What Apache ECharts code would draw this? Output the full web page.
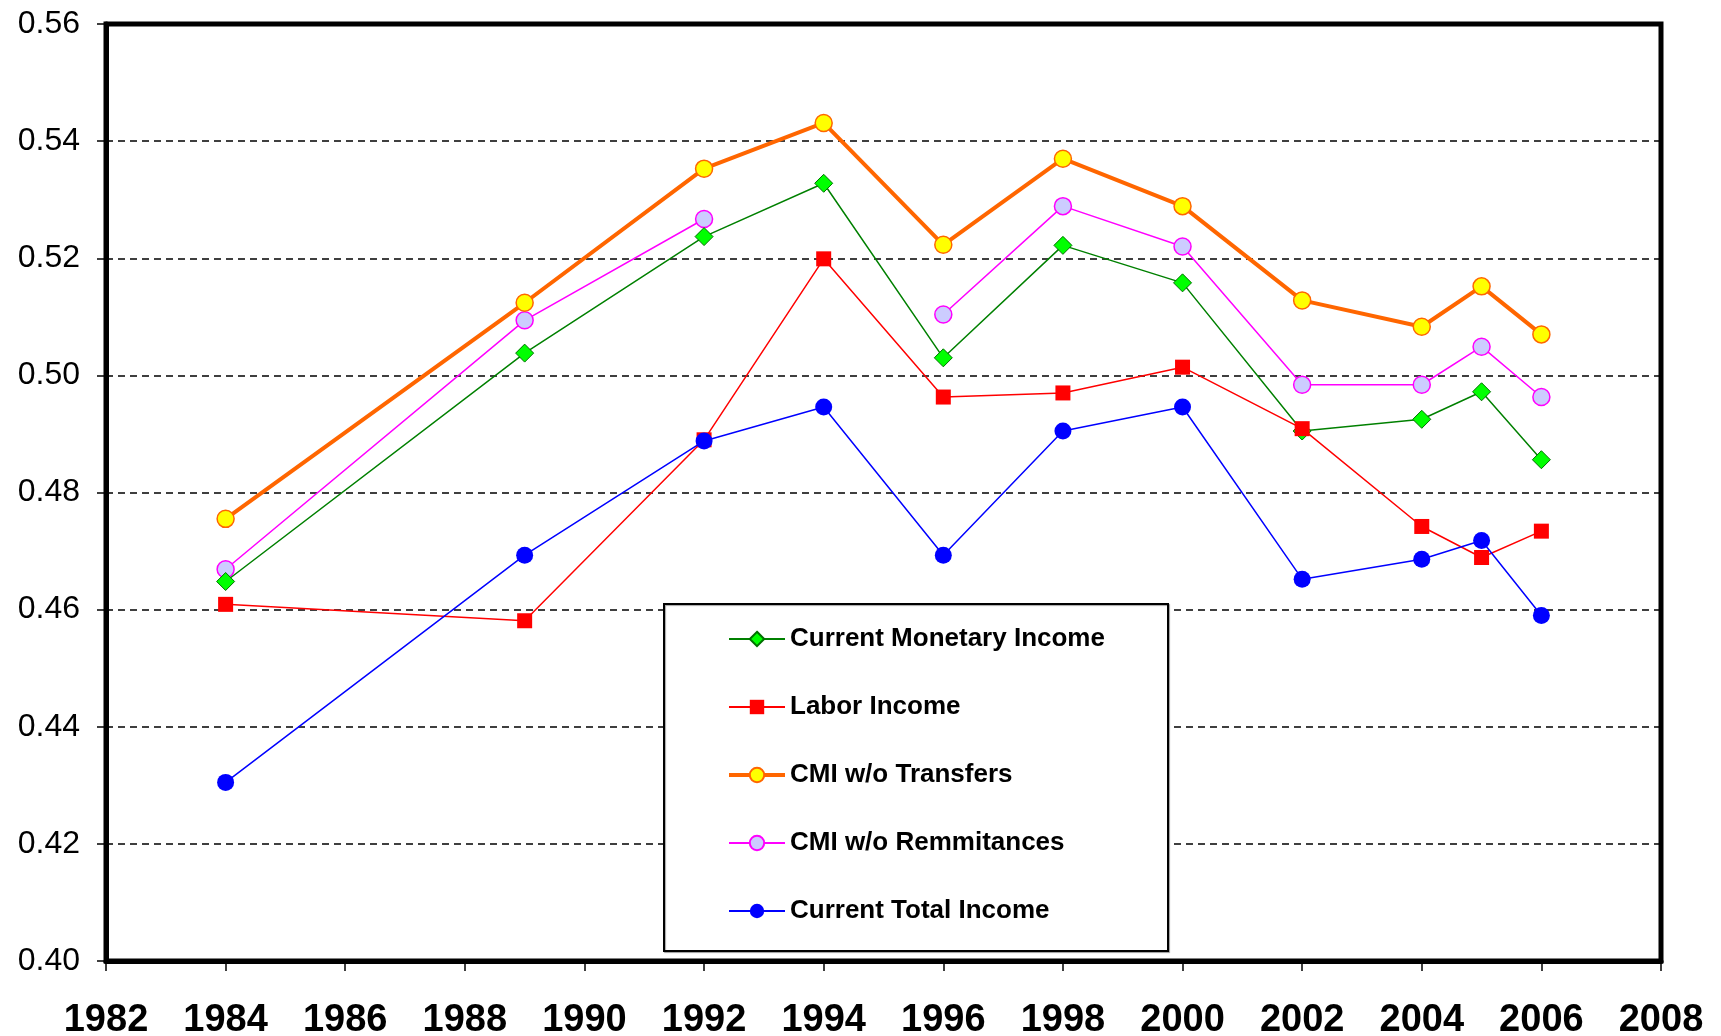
<!DOCTYPE html>
<html>
<head>
<meta charset="utf-8">
<script src="https://cdn.jsdelivr.net/npm/echarts@6/dist/echarts.min.js"></script>
<style>
  html, body { margin: 0; padding: 0; background: #ffffff; }
  #chart { width: 1721px; height: 1036px; }
</style>
</head>
<body>
<div id="chart"></div>
<script>
// Survey years
const years = [1984, 1989, 1992, 1994, 1996, 1998, 2000, 2002, 2004, 2005, 2006];

// Gini coefficients by income concept
const currentMonetaryIncome = [0.4648, 0.5038, 0.5237, 0.5328, 0.5030, 0.5222, 0.5158, 0.4905, 0.4925, 0.4972, 0.4856];
const laborIncome           = [0.4609, 0.4581, 0.4890, 0.5199, 0.4963, 0.4970, 0.5014, 0.4909, 0.4742, 0.4689, 0.4734];
const cmiWithoutTransfers   = [0.4755, 0.5124, 0.5353, 0.5431, 0.5223, 0.5370, 0.5289, 0.5128, 0.5083, 0.5152, 0.5070];
const cmiWithoutRemittances = [0.4669, 0.5094, 0.5267, null,   0.5104, 0.5289, 0.5220, 0.4984, 0.4984, 0.5049, 0.4963];
const currentTotalIncome    = [0.4305, 0.4693, 0.4888, 0.4946, 0.4693, 0.4905, 0.4946, 0.4652, 0.4686, 0.4718, 0.4590];

// Axis ranges
const xMin = 1982, xMax = 2008, xStep = 2;
const yMin = 0.40, yMax = 0.56, yStep = 0.02;

const pairs = vals => years.map((y, i) => [y, vals[i]]);

const chart = echarts.init(document.getElementById('chart'), null, { renderer: 'canvas' });

const option = {
  backgroundColor: '#ffffff',
  animation: false,
  grid: {
    left: 106, top: 24, right: 60, bottom: 75,
    outerBoundsMode: 'none',
    containLabel: false,
    show: true,
    borderColor: '#000000',
    borderWidth: 5,
    backgroundColor: 'transparent'
  },
  xAxis: {
    type: 'value',
    min: xMin, max: xMax, interval: xStep,
    axisLine: { show: true, onZero: false, lineStyle: { color: '#000000', width: 5 } },
    axisTick: { show: true, length: 10, lineStyle: { color: '#000000', width: 1.5 } },
    axisLabel: {
      margin: 41,
      color: '#000000',
      fontFamily: 'Liberation Sans, Arial, sans-serif',
      fontWeight: 'bold',
      fontSize: 38,
      formatter: v => String(v)
    },
    splitLine: { show: false }
  },
  yAxis: {
    type: 'value',
    min: yMin, max: yMax, interval: yStep,
    axisLine: { show: true, lineStyle: { color: '#000000', width: 5 } },
    axisTick: { show: true, length: 9, lineStyle: { color: '#000000', width: 1.5 } },
    axisLabel: {
      margin: 26,
      color: '#000000',
      fontFamily: 'Liberation Sans, Arial, sans-serif',
      fontSize: 32,
      formatter: v => v.toFixed(2)
    },
    splitLine: { show: true, lineStyle: { color: '#000000', width: 1.5, type: [7, 5] } }
  },
  graphic: [{
    type: 'rect',
    z: 3,
    shape: { x: 664, y: 604, width: 504, height: 347 },
    style: { fill: '#ffffff', stroke: '#000000', lineWidth: 2,
             shadowColor: 'rgba(0,0,0,0.35)', shadowOffsetX: 1, shadowOffsetY: 1, shadowBlur: 1 }
  }],
  legend: {
    orient: 'vertical',
    left: 727, top: 626,
    z: 10,
    padding: 0,
    itemGap: 42,
    itemWidth: 56,
    itemHeight: 18,
    textStyle: {
      color: '#000000',
      fontFamily: 'Liberation Sans, Arial, sans-serif',
      fontWeight: 'bold',
      fontSize: 26
    },
    data: [
      { name: 'Current Monetary Income', lineStyle: { width: 2 } },
      { name: 'Labor Income', lineStyle: { width: 2 } },
      { name: 'CMI w/o Transfers', lineStyle: { width: 4 } },
      { name: 'CMI w/o Remmitances', lineStyle: { width: 2 } },
      { name: 'Current Total Income', lineStyle: { width: 2 } }
    ]
  },
  series: [
    {
      name: 'CMI w/o Remmitances', type: 'line', z: 2,
      data: pairs(cmiWithoutRemittances), connectNulls: false,
      symbol: 'circle', symbolSize: 17,
      lineStyle: { color: '#ff00ff', width: 1.5 },
      itemStyle: { color: '#ccccff', borderColor: '#ff00ff', borderWidth: 1.5 }
    },
    {
      name: 'Current Monetary Income', type: 'line', z: 3,
      data: pairs(currentMonetaryIncome),
      symbol: 'diamond', symbolSize: 18,
      lineStyle: { color: '#008000', width: 1.5 },
      itemStyle: { color: '#00ff00', borderColor: '#007000', borderWidth: 1 }
    },
    {
      name: 'Labor Income', type: 'line', z: 3,
      data: pairs(laborIncome),
      symbol: 'rect', symbolSize: 15,
      lineStyle: { color: '#ff0000', width: 1.5 },
      itemStyle: { color: '#ff0000', borderWidth: 0 }
    },
    {
      name: 'CMI w/o Transfers', type: 'line', z: 4,
      data: pairs(cmiWithoutTransfers),
      symbol: 'circle', symbolSize: 17,
      lineStyle: { color: '#ff6600', width: 4 },
      itemStyle: { color: '#ffff00', borderColor: '#ff6600', borderWidth: 1.5 }
    },
    {
      name: 'Current Total Income', type: 'line', z: 4,
      data: pairs(currentTotalIncome),
      symbol: 'circle', symbolSize: 17,
      lineStyle: { color: '#0000ff', width: 1.5 },
      itemStyle: { color: '#0000ff', borderWidth: 0 }
    }
  ]
};

chart.setOption(option);
</script>
</body>
</html>
